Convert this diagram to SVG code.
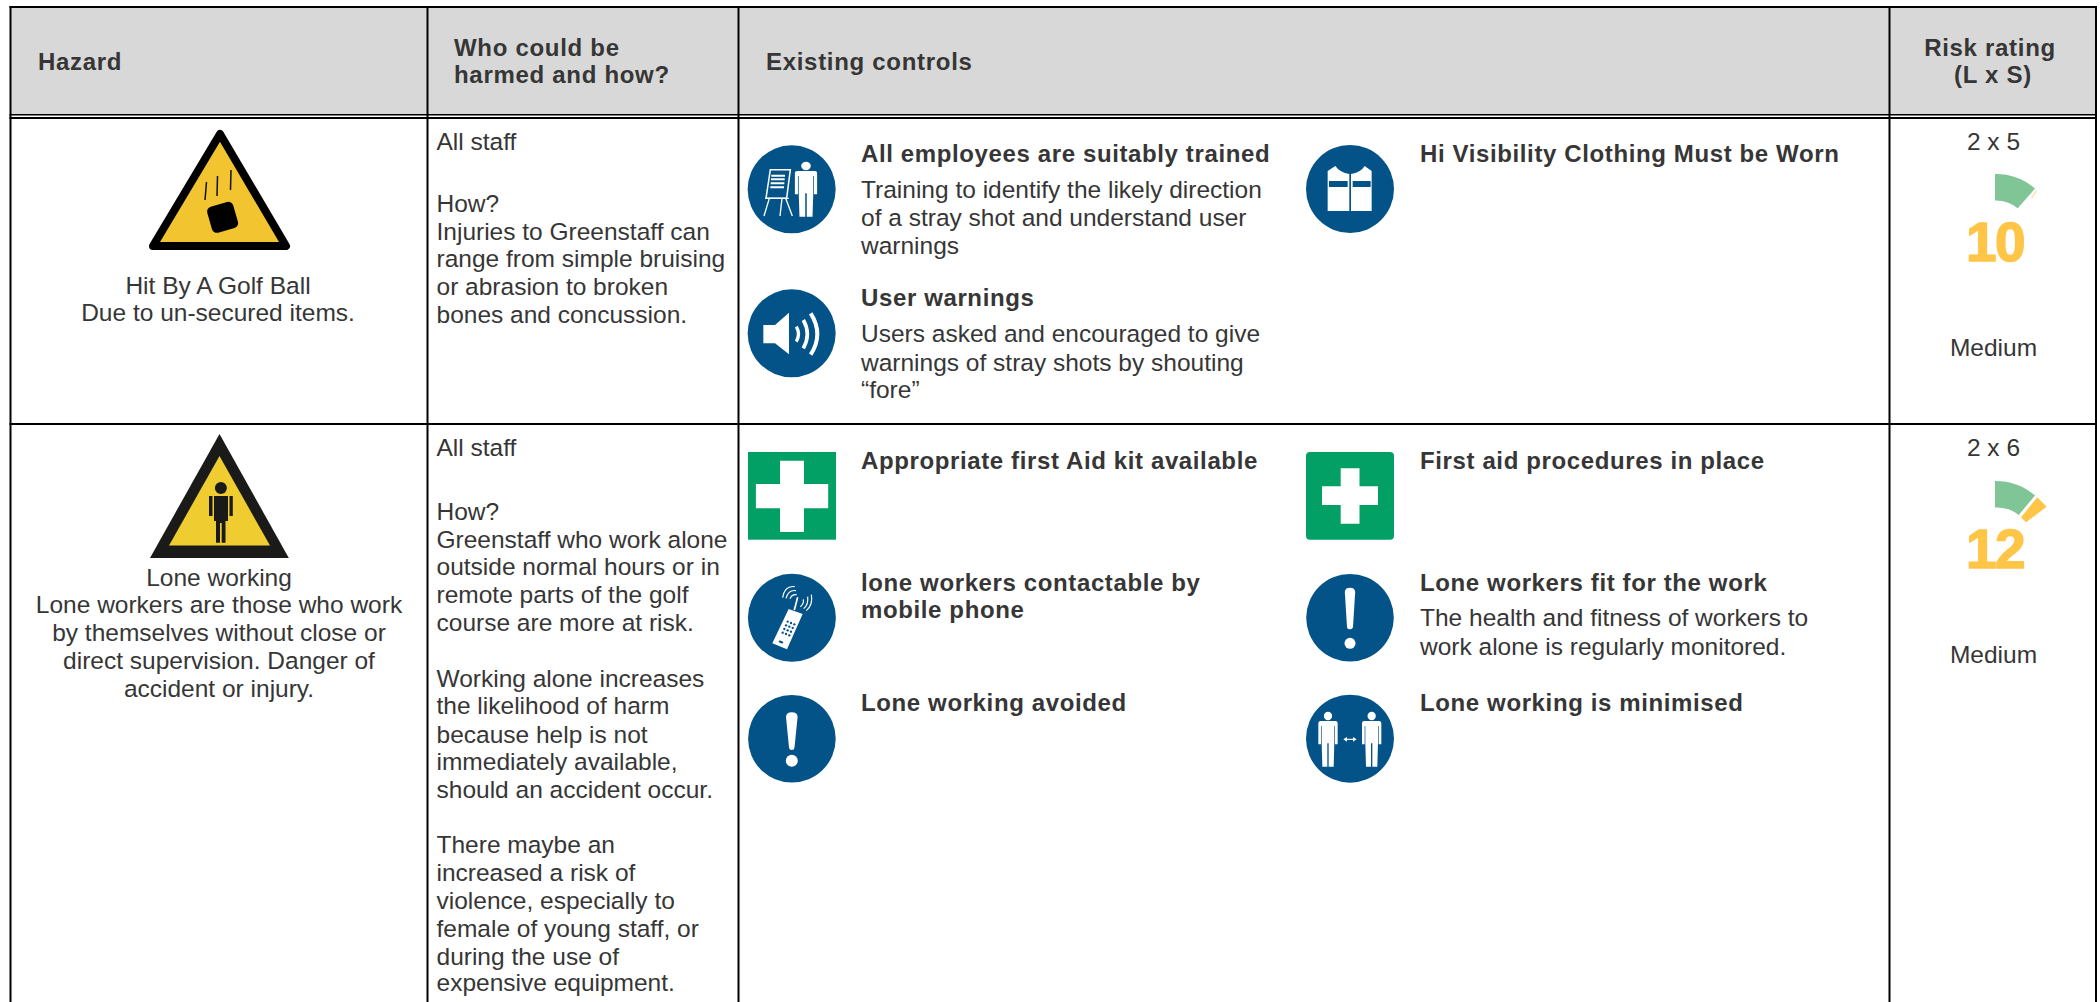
<svg xmlns="http://www.w3.org/2000/svg" xmlns:xlink="http://www.w3.org/1999/xlink" width="2100" height="1002" viewBox="0 0 2100 1002">
<style>
text{font-family:"Liberation Sans",Arial,Helvetica,sans-serif;fill:#363636}
.h{font-size:24px;font-weight:700;letter-spacing:.7px;transform:translateY(.8px)}
.t{font-size:24px;font-weight:700;letter-spacing:.62px;transform:translateY(.8px)}
.b{font-size:24.500px;transform:translateY(.8px)}
.m{text-anchor:middle}
.n{font-size:55px;font-weight:700;fill:#ffc547;stroke:#ffc547;stroke-width:1.500;stroke-linejoin:round;text-anchor:middle;letter-spacing:-1.5px}
.l{stroke:#000;stroke-width:2;fill:none}
.blue{fill:#035388}
.w{fill:#fff}
.ws{stroke:#fff;fill:none}
.green{fill:#7fc596}
.amber{fill:#ffc547}
.fa{fill:#03a065}
</style>
<defs>
<g id="man">
<circle cx="0" cy="78" r="12.500" fill="#fff"/>
<path fill="#fff" d="M-22 93H22Q29 93 29 100V163H21V108H19V158L17 230H2V160H-2V230H-17L-19 158V108H-21V163H-29V100Q-29 93-22 93Z"/>
</g>
</defs>
<rect width="2100" height="1002" fill="#fff"/>
<g id="header">
<rect x="10" y="7" width="2086" height="108" fill="#d8d8d8"/>
<text class="h" x="38" y="69">Hazard</text>
<text class="h" x="454" y="55">Who could be</text>
<text class="h" x="454" y="82.700">harmed and how?</text>
<text class="h" x="766" y="69">Existing controls</text>
<text class="h m" x="1990" y="55">Risk rating</text>
<text class="h m" x="1993" y="82.700">(L x S)</text>
</g>
<g id="grid">
<path class="l" d="M9.500 7H2097M9.500 118H2097M9.500 424H2097"/>
<path d="M9.500 114.800H2097" stroke="#000" stroke-width="1.500"/>
<path class="l" d="M10.500 6V1002M427.500 6V1002M738.500 6V1002M1889.500 6V1002M2096 6V1002"/>
</g>

<g id="hazard-golf-ball">
<path d="M220 134L286 246H153Z" fill="#f2c530" stroke="#000" stroke-width="8" stroke-linejoin="round"/>
<rect x="209" y="204" width="27" height="27" rx="5" transform="rotate(-16 222 217)" fill="#000"/>
<path d="M206.500 182L205 200M217.500 176L217 196M231 170L230.500 190" stroke="#111" stroke-width="1.500"/>
<text class="b m" x="218" y="293">Hit By A Golf Ball</text>
<text class="b m" x="218" y="320.700">Due to un-secured items.</text>
</g>

<g id="who-row1">
<text class="b" x="436.500" y="149.300">All staff</text>
<text class="b" x="436.500" y="211.700">How?</text>
<text class="b" x="436.500" y="239.300">Injuries to Greenstaff can</text>
<text class="b" x="436.500" y="266.700">range from simple bruising</text>
<text class="b" x="436.500" y="294.700">or abrasion to broken</text>
<text class="b" x="436.500" y="322.700">bones and concussion.</text>
</g>

<g id="control-trained">
<g transform="translate(740 130) scale(.3333)">
<circle class="blue" cx="155" cy="178" r="132"/>
<path class="ws" stroke-width="4.500" d="M91 119H151L140 205H78Z"/>
<path class="ws" stroke-width="6" d="M94 137H135M93 148H134M92 160H133M91 172H132"/>
<path class="ws" stroke-width="4" d="M76 205H146M88 205L72 258M126 205L120 258M137 205L157 258"/>
<use xlink:href="#man" transform="translate(198 30) scale(1.150 1)"/>
</g>
<text class="t" x="861" y="161.700">All employees are suitably trained</text>
<text class="b" x="861" y="197.300">Training to identify the likely direction</text>
<text class="b" x="861" y="225.700">of a stray shot and understand user</text>
<text class="b" x="861" y="253">warnings</text>
</g>

<g id="control-warnings">
<g transform="translate(740 130) scale(.3333)">
<circle class="blue" cx="155" cy="610" r="132"/>
<path class="w" d="M70 585H105L147 548V673L105 640H70Z"/>
<path class="ws" stroke-width="10" d="M169 590Q182 612 169 635"/>
<path class="ws" stroke-width="11" d="M190 570Q214 612 190 655"/>
<path class="ws" stroke-width="12" d="M212 550Q252 612 212 674"/>
</g>
<text class="t" x="861" y="305.700">User warnings</text>
<text class="b" x="861" y="341.700">Users asked and encouraged to give</text>
<text class="b" x="861" y="370">warnings of stray shots by shouting</text>
<text class="b" x="861" y="397.300">“fore”</text>
</g>

<g id="control-visibility">
<g transform="translate(1290 130) scale(.3333)">
<circle class="blue" cx="180" cy="177" r="132"/>
<path class="w" d="M113 123L136 108Q150 128 178 132V243H113Z"/>
<path class="w" d="M245 123L224 108Q212 128 183 132V243H245Z"/>
<rect class="blue" x="117" y="153" width="56" height="18"/>
<rect class="blue" x="188" y="153" width="54" height="18"/>
</g>
<text class="t" x="1420" y="161.700">Hi Visibility Clothing Must be Worn</text>
</g>

<g id="rating-row1">
<text class="b m" x="1993.500" y="149.300">2 x 5</text>
<path class="green" d="M1995 174A60.500 60.500 0 0 1 2035 188.500L2017.700 208.300A34 34 0 0 0 1995 200.500Z"/>
<path d="M2036.500 190.500L2031.500 198" stroke="#ffc547" stroke-width=".8"/>
<text class="n" x="1995" y="261">10</text>
<text class="b m" x="1993.500" y="355">Medium</text>
</g>

<g id="hazard-lone-working">
<path d="M219.500 434L288.800 558H150Z" fill="#1a1a18"/>
<path d="M219.500 456L270 545.600H169Z" fill="#efcd30"/>
<circle cx="220.900" cy="488" r="6" fill="#1a1a18"/>
<path fill="#1a1a18" d="M214 496H228V521H225.500V542.700H221.700V523H220V542.700H216V521H214ZM209 496H212.500V516H209ZM229.500 496H232.800V516H229.500Z"/>
<text class="b m" x="219" y="585.400">Lone working</text>
<text class="b m" x="219" y="612">Lone workers are those who work</text>
<text class="b m" x="219" y="640">by themselves without close or</text>
<text class="b m" x="219" y="668">direct supervision. Danger of</text>
<text class="b m" x="219" y="696">accident or injury.</text>
</g>

<g id="who-row2">
<text class="b" x="436.500" y="455.300">All staff</text>
<text class="b" x="436.500" y="519.300">How?</text>
<text class="b" x="436.500" y="547.500">Greenstaff who work alone</text>
<text class="b" x="436.500" y="574.300">outside normal hours or in</text>
<text class="b" x="436.500" y="602">remote parts of the golf</text>
<text class="b" x="436.500" y="630">course are more at risk.</text>
<text class="b" x="436.500" y="685.800">Working alone increases</text>
<text class="b" x="436.500" y="713.700">the likelihood of harm</text>
<text class="b" x="436.500" y="742">because help is not</text>
<text class="b" x="436.500" y="769.400">immediately available,</text>
<text class="b" x="436.500" y="797">should an accident occur.</text>
<text class="b" x="436.500" y="852.700">There maybe an</text>
<text class="b" x="436.500" y="880">increased a risk of</text>
<text class="b" x="436.500" y="908">violence, especially to</text>
<text class="b" x="436.500" y="936">female of young staff, or</text>
<text class="b" x="436.500" y="964">during the use of</text>
<text class="b" x="436.500" y="990.600">expensive equipment.</text>
</g>

<g id="control-first-aid-kit">
<rect class="fa" x="748" y="452" width="88" height="87.700"/>
<path class="w" d="M780 460.700H804V484H828.200V508.300H804V532H780V508.300H755.900V484H780Z"/>
<text class="t" x="861" y="468.300">Appropriate first Aid kit available</text>
</g>

<g id="control-first-aid-procedures">
<rect class="fa" x="1306" y="452" width="88" height="87.700" rx="4"/>
<path class="w" d="M1340.700 468.300H1359.500V486.300H1378V505H1359.500V523.700H1340.700V505H1322V486.300H1340.700Z"/>
<text class="t" x="1420" y="468.300">First aid procedures in place</text>
</g>

<g id="control-mobile-phone">
<g transform="translate(740 560) scale(.3333)">
<circle class="blue" cx="155.700" cy="173.400" r="132"/>
<path class="w" d="M146 147L188 162L141 268L97 250Z"/>
<path class="ws" stroke-width="5" d="M163 150L173 112"/>
<path class="ws" stroke-width="3.500" d="M150 116Q156 102 170 104M138 115Q146 88 168 92M128 113Q134 76 164 80"/>
<path class="ws" stroke-width="3.500" d="M181 140Q192 132 190 118M191 146Q206 134 203 110M199 152Q220 134 214 104"/>
<g class="blue">
<circle cx="143" cy="185" r="3.500"/><circle cx="153" cy="189" r="3.500"/><circle cx="163" cy="193" r="3.500"/>
<circle cx="138" cy="196" r="3.500"/><circle cx="148" cy="200" r="3.500"/><circle cx="158" cy="204" r="3.500"/>
<circle cx="133" cy="207" r="3.500"/><circle cx="143" cy="211" r="3.500"/><circle cx="153" cy="215" r="3.500"/>
<circle cx="128" cy="218" r="3.500"/><circle cx="138" cy="222" r="3.500"/><circle cx="148" cy="226" r="3.500"/>
<rect x="116" y="243" width="14" height="6" rx="3" transform="rotate(22 123 246)"/>
</g>
</g>
<text class="t" x="861" y="590">lone workers contactable by</text>
<text class="t" x="861" y="617.700">mobile phone</text>
</g>

<g id="control-fit-for-work">
<circle class="blue" cx="1350" cy="617.800" r="43.800"/>
<path class="w" d="M1344.800 592Q1345 587.700 1350 587.700Q1355 587.700 1355.200 592L1353 627Q1352.800 629.300 1350 629.300Q1347.200 629.300 1347 627Z"/>
<circle class="w" cx="1350" cy="643.300" r="5.500"/>
<text class="t" x="1420" y="590">Lone workers fit for the work</text>
<text class="b" x="1420" y="625.700">The health and fitness of workers to</text>
<text class="b" x="1420" y="654">work alone is regularly monitored.</text>
</g>

<g id="control-avoided">
<circle class="blue" cx="791.900" cy="738.800" r="43.800"/>
<path class="w" d="M786 717Q786 712.300 791.800 712.300Q797.600 712.300 797.600 717L794.500 747.500Q794.300 750 791.800 750Q789.300 750 789 747.500Z"/>
<circle class="w" cx="791.800" cy="760.700" r="6"/>
<text class="t" x="861" y="710.700">Lone working avoided</text>
</g>

<g id="control-minimised">
<g transform="translate(1290 690) scale(.3333)">
<circle class="blue" cx="180" cy="146" r="132"/>
<use xlink:href="#man" transform="translate(114 0)"/>
<use xlink:href="#man" transform="translate(245 0)"/>
<path class="ws" stroke-width="3.500" d="M166 148H194"/>
<path class="w" d="M160 148L171 141V155ZM200 148L189 141V155Z"/>
</g>
<text class="t" x="1420" y="710.700">Lone working is minimised</text>
</g>

<g id="rating-row2">
<text class="b m" x="1993.500" y="455">2 x 6</text>
<path class="green" d="M1995 481A60.500 60.500 0 0 1 2035 495.500L2018.700 515A34 34 0 0 0 1995 507.500Z"/>
<path class="amber" d="M2037.300 497.300L2046.700 506.700L2026 522.300L2021 517.300Z"/>
<text class="n" x="1995" y="567.500">12</text>
<text class="b m" x="1993.500" y="662.300">Medium</text>
</g>
</svg>
